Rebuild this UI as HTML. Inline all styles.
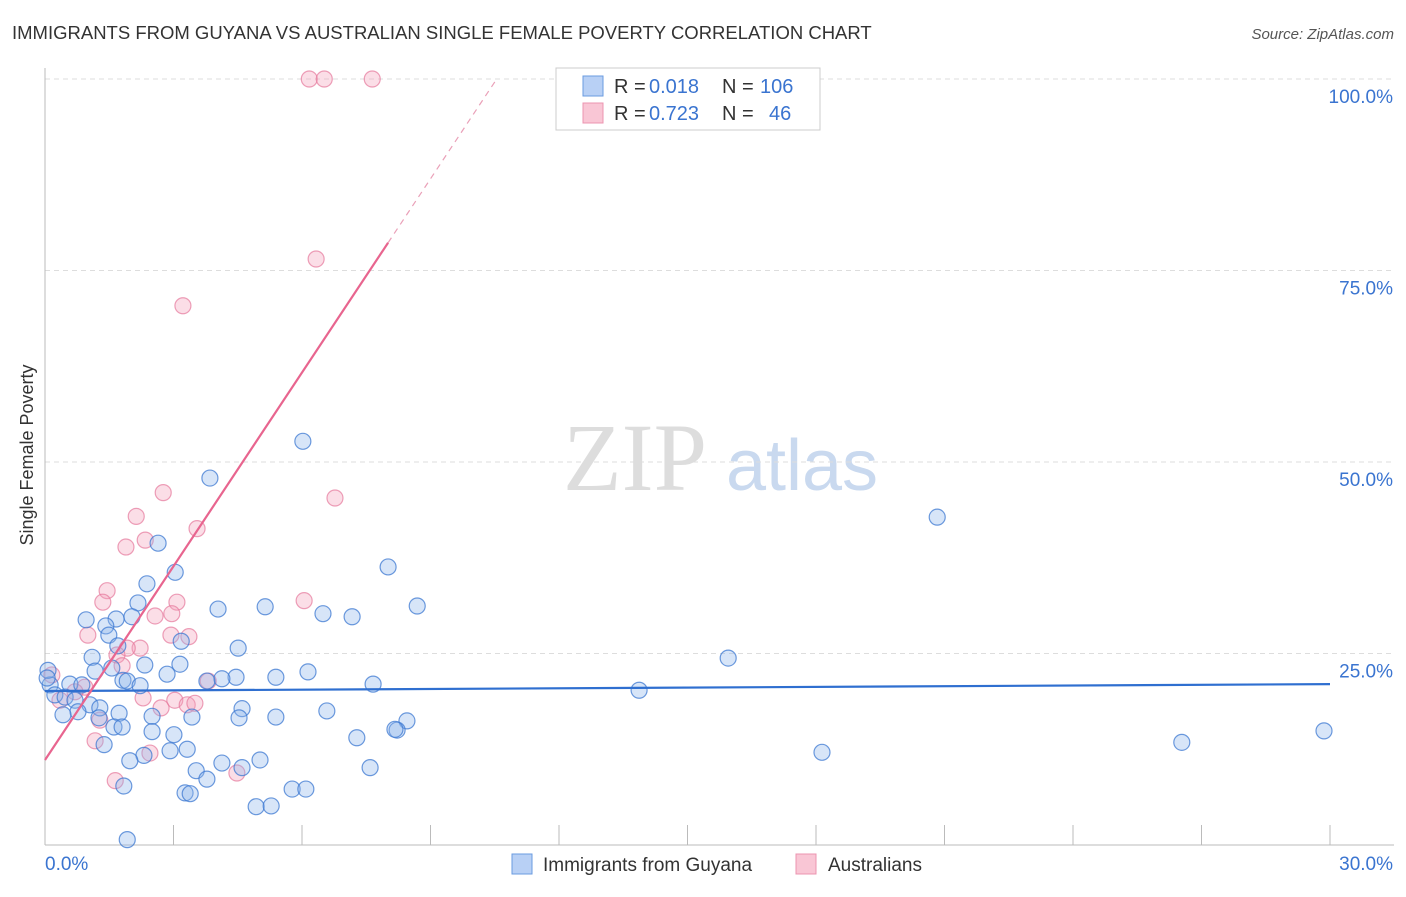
<!DOCTYPE html>
<html><head><meta charset="utf-8"><style>
body{margin:0;background:#fff;font-family:"Liberation Sans",sans-serif}
</style></head><body>
<svg id="c" width="1406" height="892" xmlns="http://www.w3.org/2000/svg">
<text x="12" y="39" font-size="18.5" fill="#333">IMMIGRANTS FROM GUYANA VS AUSTRALIAN SINGLE FEMALE POVERTY CORRELATION CHART</text>
<text x="1394" y="39" font-size="15" fill="#555" font-style="italic" text-anchor="end">Source: ZipAtlas.com</text>
<text x="33" y="455" font-size="18" fill="#333" transform="rotate(-90 33 455)" text-anchor="middle">Single Female Poverty</text>
<g><text x="635" y="490" font-size="96" fill="#ddd" font-family="Liberation Serif,serif" text-anchor="middle">ZIP</text><text x="802" y="490" font-size="72" fill="#c9d9ef" text-anchor="middle">atlas</text></g>
<g id="grid"></g><g id="pts"></g><g id="lines"></g>
<g>
<rect x="556" y="68" width="264" height="62" fill="#fff" stroke="#ccc"/>
<rect x="583" y="76" width="20" height="20" fill="#b8d0f5" stroke="#6a9be0"/>
<rect x="583" y="103" width="20" height="20" fill="#f9c6d5" stroke="#ec94b0"/>
<text x="614" y="93" font-size="20" fill="#333">R =</text><text x="649" y="93" font-size="20" fill="#3a74d0">0.018</text>
<text x="722" y="93" font-size="20" fill="#333">N =</text><text x="760" y="93" font-size="20" fill="#3a74d0">106</text>
<text x="614" y="120" font-size="20" fill="#333">R =</text><text x="649" y="120" font-size="20" fill="#3a74d0">0.723</text>
<text x="722" y="120" font-size="20" fill="#333">N =</text><text x="769" y="120" font-size="20" fill="#3a74d0">46</text>
</g>
<g>
<rect x="512" y="854" width="20" height="20" fill="#b8d0f5" stroke="#6a9be0"/>
<text x="543" y="871" font-size="19" fill="#333">Immigrants from Guyana</text>
<rect x="796" y="854" width="20" height="20" fill="#f9c6d5" stroke="#ec94b0"/>
<text x="828" y="871" font-size="19" fill="#333">Australians</text>
</g>
</svg>
<script>
const blueX=[6.02,3.85,20.83,2.64,8.01,3.04,2.38,8.69,2.17,4.04,5.14,6.49,7.17,0.96,1.66,2.03,1.42,1.49,3.18,4.51,1.70,1.10,15.95,2.33,3.15,1.17,1.56,6.14,2.85,5.39,4.46,4.13,3.78,1.82,1.92,2.22,7.66,13.87,0.58,0.86,0.12,0.23,0.47,0.70,1.05,1.28,0.77,0.42,1.73,4.60,6.58,2.50,3.43,4.53,5.39,1.26,8.45,8.22,8.17,1.61,1.80,2.50,3.01,7.28,18.14,26.54,29.86,1.38,3.32,2.92,2.31,1.98,5.02,4.13,4.60,3.53,7.59,3.78,1.84,5.77,6.09,3.27,3.39,4.93,5.28,1.92,0.07,0.05];
const blueY=[52.7,47.9,42.8,39.4,36.3,35.6,34.1,31.2,31.6,30.8,31.1,30.2,29.8,29.4,29.5,29.8,28.6,27.4,26.6,25.7,26.0,24.5,24.4,23.5,23.6,22.7,23.1,22.6,22.3,21.9,21.9,21.7,21.4,21.5,21.4,20.8,21.0,20.2,21.0,20.9,20.9,19.6,19.3,18.9,18.3,17.9,17.4,17.0,17.2,17.8,17.5,16.8,16.7,16.6,16.7,16.6,16.2,15.0,15.1,15.4,15.4,14.8,14.4,14.0,12.1,13.4,14.9,13.1,12.5,12.3,11.7,11.0,11.1,10.7,10.1,9.7,10.1,8.6,7.7,7.3,7.3,6.8,6.7,5.0,5.1,0.7,22.8,21.8];
const pinkX=[6.17,6.52,7.64,6.33,3.22,6.77,2.76,2.13,3.55,2.34,1.89,1.45,1.35,6.05,3.08,2.96,2.57,1.00,3.36,2.94,2.22,1.92,1.68,1.80,3.81,0.93,0.16,2.29,3.03,3.32,2.71,3.50,1.28,1.17,2.45,4.48,1.64,0.35,0.70];
const pinkY=[100,100,100,76.5,70.4,45.3,46.0,42.9,41.3,39.8,38.9,33.2,31.7,31.9,31.7,30.2,29.9,27.4,27.2,27.4,25.7,25.7,24.8,23.4,21.4,20.6,22.2,19.2,18.9,18.3,17.9,18.5,16.3,13.6,12.0,9.4,8.4,18.9,20.0];
const blueLine=[20.1,21.0];
const pinkLine=[11.1,8.43];
const xTicks=["0.0%","30.0%"];
const yTicks=[25,50,75,100];
const X=v=>45+v/30*1285, Y=v=>845-v/100*766;
const NS="http://www.w3.org/2000/svg";
function mk(p,t,a){const e=document.createElementNS(NS,t);for(const k in a)e.setAttribute(k,a[k]);p.appendChild(e);return e;}
const g=document.getElementById('grid');
yTicks.forEach(t=>{const l=mk(g,'line',{x1:45,x2:1394,y1:Y(t),y2:Y(t),stroke:'#ddd','stroke-dasharray':'5,4'});


const tx=mk(g,'text',{x:1393,y:Y(t)+24,'font-size':19,fill:'#3a74d0','text-anchor':'end'});tx.textContent=t.toFixed(1)+'%';

});
mk(g,'line',{x1:45,x2:45,y1:68,y2:845,stroke:'#bbb'});
mk(g,'line',{x1:45,x2:1394,y1:845,y2:845,stroke:'#bbb'});
for(let i=1;i<=10;i++){mk(g,'line',{x1:X(i*3),x2:X(i*3),y1:825,y2:845,stroke:'#bbb'});}
const t0=mk(g,'text',{x:45,y:870,'font-size':19,fill:'#3a74d0'});t0.textContent=xTicks[0];


const t1=mk(g,'text',{x:1393,y:870,'font-size':19,fill:'#3a74d0','text-anchor':'end'});t1.textContent=xTicks[1];


const P=document.getElementById('pts');
pinkX.forEach((x,i)=>{const c=mk(P,'circle',{cx:X(x),cy:Y(pinkY[i]),r:8,fill:'rgba(244,160,185,0.35)',stroke:'rgba(230,120,155,0.7)','stroke-width':1.2});

});
blueX.forEach((x,i)=>{const c=mk(P,'circle',{cx:X(x),cy:Y(blueY[i]),r:8,fill:'rgba(140,180,235,0.35)',stroke:'rgba(60,120,210,0.75)','stroke-width':1.2});

});
const L=document.getElementById('lines');
const bl=mk(L,'line',{x1:X(0),y1:Y(blueLine[0]),x2:X(30),y2:Y(blueLine[1]),stroke:'#2f6fd0','stroke-width':2.2});


const xe=8.01, xd=(100-pinkLine[0])/pinkLine[1];
const pl=mk(L,'line',{x1:X(0),y1:Y(pinkLine[0]),x2:X(xe),y2:Y(pinkLine[0]+pinkLine[1]*xe),stroke:'#e8658f','stroke-width':2.2});


const pd=mk(L,'line',{x1:X(xe),y1:Y(pinkLine[0]+pinkLine[1]*xe),x2:X(xd),y2:Y(100),stroke:'#eaa0b8','stroke-width':1.2,'stroke-dasharray':'6,5'});


</script>
</body></html>
